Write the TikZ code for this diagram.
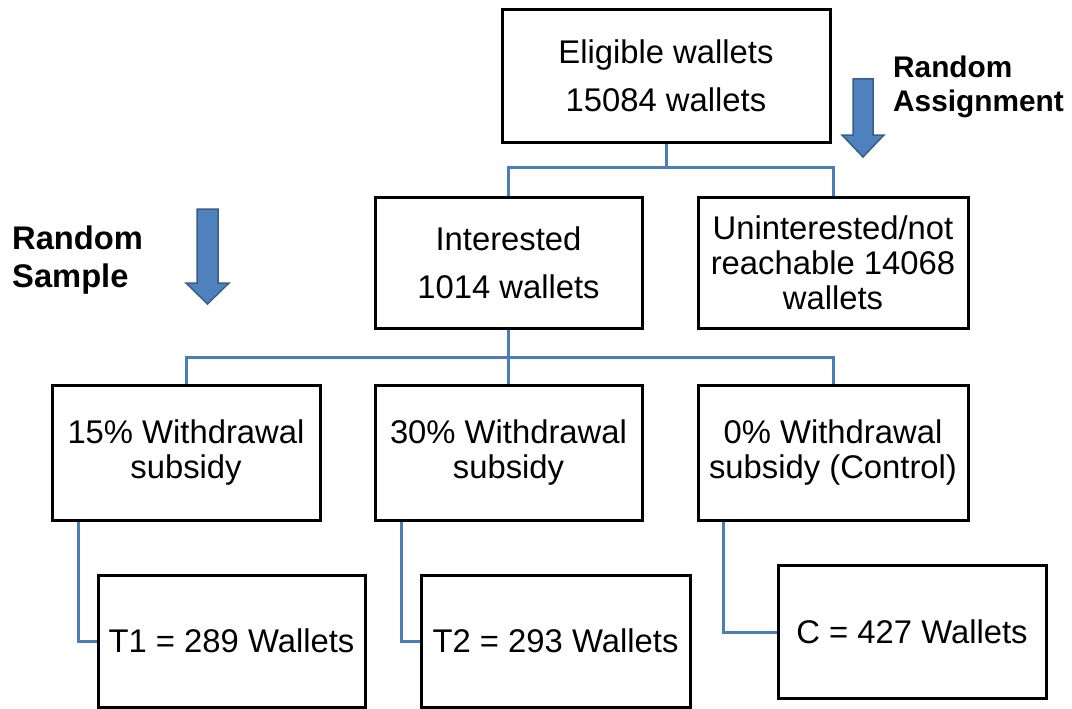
\documentclass[tikz,border=0pt]{standalone}
\usepackage{fontspec}
\setmainfont{Liberation Sans}
\definecolor{connblue}{HTML}{4A7EBB}
\definecolor{arrfill}{HTML}{4F81BD}
\definecolor{arrline}{HTML}{385D8A}
\tikzset{
  box/.style={draw=black, line width=3pt, inner sep=0pt, align=center,
    font=\fontsize{32.8}{35}\selectfont},
  conn/.style={draw=connblue, line width=3pt},
  blockarrow/.style={fill=arrfill, draw=arrline, line width=1.5pt, line join=miter},
  lbl/.style={font=\bfseries, align=left, inner sep=0pt, anchor=west}
}
\begin{document}
\begin{tikzpicture}[x=1pt,y=-1pt]
\useasboundingbox (0,0) rectangle (1072,709);
% boxes
\node[box, minimum width=328pt, minimum height=132pt] (elig) at (666,76)
  {Eligible wallets\\[13pt]15084 wallets};
\node[box, minimum width=267pt, minimum height=131pt] (int) at (508.5,262.5)
  {Interested\\[13pt]1014 wallets};
\node[box, minimum width=270pt, minimum height=131pt] (unint) at (833,262.5)
  {Uninterested/not\\reachable 14068\\wallets};
\node[box, minimum width=268pt, minimum height=135pt] (s15) at (186,452.5)
  {15\% Withdrawal\\subsidy};
\node[box, minimum width=267pt, minimum height=135pt] (s30) at (508.5,452.5)
  {30\% Withdrawal\\subsidy};
\node[box, minimum width=270pt, minimum height=135pt] (s0) at (833,452.5)
  {0\% Withdrawal\\subsidy (Control)};
\node[box, minimum width=267pt, minimum height=132pt] (t1) at (231.5,641)
  {T1 = 289 Wallets};
\node[box, minimum width=269pt, minimum height=132pt] (t2) at (555.5,641)
  {T2 = 293 Wallets};
\node[box, minimum width=268pt, minimum height=133pt] (c) at (912,632)
  {C = 427 Wallets};
% connectors
\coordinate (j1) at (666,167);
\coordinate (j2) at (508.5,357);
\draw[conn] (elig.south) -- (j1);
\draw[conn] (int.north) |- (j1) -| (unint.north);
\draw[conn] (int.south) -- (j2);
\draw[conn] (s15.north) |- (j2) -| (s0.north);
\draw[conn] (j2) -- (s30.north);
\draw[conn] ([xshift=28pt]s15.south west) |- (t1.west);
\draw[conn] ([xshift=28pt]s30.south west) |- (t2.west);
\draw[conn] ([xshift=27pt]s0.south west) |- (c.west);
% block arrows
\draw[blockarrow] (853,79) -- (873,79) -- (873,135) -- (884,135) -- (863,157)
  -- (842,135) -- (853,135) -- cycle;
\draw[blockarrow] (197,209) -- (218,209) -- (218,283) -- (229,283) -- (207.5,304)
  -- (186,283) -- (197,283) -- cycle;
% labels
\node[lbl, font=\fontsize{29.8}{34}\selectfont\bfseries] (ra) at (893,87)
  {Random\\Assignment};
\node[lbl, font=\fontsize{32.7}{38}\selectfont\bfseries] (rs) at (12,260)
  {Random\\Sample};
\end{tikzpicture}
\end{document}
